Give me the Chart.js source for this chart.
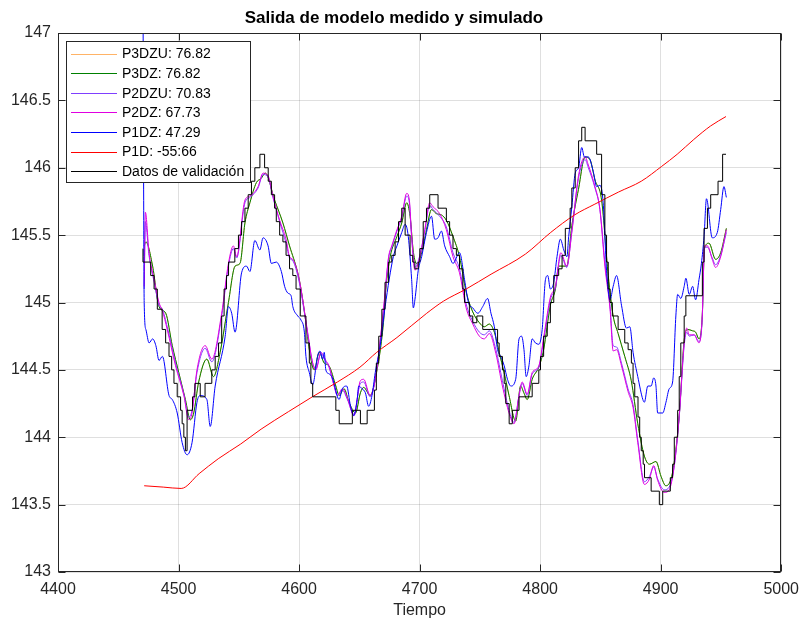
<!DOCTYPE html>
<html>
<head>
<meta charset="utf-8">
<script src="https://cdn.jsdelivr.net/npm/chart.js@4.4.1/dist/chart.umd.min.js"></script>
<style>
  html, body { margin: 0; padding: 0; background: #ffffff; }
  #lienzo { display: block; }
</style>
</head>
<body>
<canvas id="lienzo" width="807" height="620"></canvas>
<script>
// Modelos comparados y su ajuste (%), tal como aparecen en la leyenda
const modelos = ['P3DZU', 'P3DZ', 'P2DZU', 'P2DZ', 'P1DZ', 'P1D'];
const ajustes = ['76.82', '76.82', '70.83', '67.73', '47.29', '-55:66'];

// Datos de validación (salida medida, cuantizada)
const tDatos = [4470.5,4476.9,4479.7,4482.4,4486.4,4489.3,4492.1,4494.3,4496.2,4498.9,
  4501.7,4503,4504.4,4505.7,4507.1,4511.6,4513.6,4518,4522,4527.6,
  4530.4,4533.2,4535.8,4537.8,4539.8,4541.5,4546.7,4549.7,4552.3,4555.1,
  4557.8,4560.5,4563.3,4567.5,4571.4,4574.4,4577,4579.7,4581.1,4583.9,
  4586.6,4589.2,4592.1,4594.8,4597.5,4601,4605.7,4608.5,4609.8,4611.3,
  4630.5,4633.3,4644.2,4650.9,4656.5,4662.5,4664.1,4666.1,4668.7,4671.3,
  4674.3,4676.9,4679.7,4682.5,4685.2,4688,4692.1,4694.3,4696.1,4698.9,
  4700.2,4703,4705.7,4708.4,4715.3,4722.2,4724.9,4727.7,4730.5,4733.1,
  4735.9,4737.3,4741.3,4744.1,4747.5,4752.4,4764.7,4766,4768.7,4770.2,
  4771.5,4774.3,4776.9,4782.5,4793.4,4798.9,4800.3,4802.9,4805.9,4808.5,
  4811.3,4815.4,4818.2,4820.9,4824.9,4826.3,4829.1,4831.9,4834.5,4837.3,
  4846.9,4851,4853.7,4855.1,4856.5,4858,4859.9,4864.7,4870.2,4873,
  4875.7,4877.1,4878.5,4881.2,4882.6,4883.9,4885.5,4886.6,4892.1,4898.9,
  4901.7,4908,4909.9,4911.3,4914.1,4915.4,4916.7,4919.5,4920.9,4934.6,
  4936,4938.8,4941.5,4947.6,4951.4,4954.2];
const yDatos = [145.4,145.3,145.2,145.1,144.95,144.8,144.7,144.6,144.5,144.4,
  144.3,144.2,144.1,144.0,143.9,144.2,144.3,144.4,144.3,144.4,
  144.5,144.6,144.7,144.9,145.1,145.2,145.3,145.4,145.5,145.6,
  145.7,145.8,145.9,146.0,146.1,146.0,145.9,145.8,145.7,145.6,
  145.5,145.45,145.35,145.25,145.2,145.1,144.9,144.7,144.55,144.4,
  144.3,144.2,144.1,144.2,144.1,144.2,144.35,144.55,144.75,144.95,
  145.15,145.3,145.35,145.45,145.6,145.7,145.5,145.35,145.3,145.25,
  145.3,145.4,145.6,145.7,145.8,145.7,145.6,145.5,145.4,145.35,
  145.25,145.1,145.0,144.9,144.85,144.9,144.8,144.7,144.6,144.5,
  144.4,144.25,144.1,144.2,144.3,144.4,144.5,144.6,144.75,144.85,
  145.0,145.2,145.25,145.35,145.55,145.7,145.85,146.0,146.2,146.3,
  146.2,146.1,145.8,145.5,145.3,145.1,145.0,144.9,144.8,144.7,
  144.65,144.55,144.4,144.3,144.15,144.0,143.9,143.8,143.7,143.6,
  143.5,143.6,143.7,143.8,144.0,144.2,144.45,144.7,144.9,145.05,
  145.3,145.55,145.7,145.8,145.9,146.1];

// Modelos de tercer orden (P3DZU y P3DZ)
const tP3 = [4471.5,4472.9,4478.5,4483.8,4489.4,4494.8,4500.2,4505.7,4509.8,4512.6,
  4516.7,4523.5,4529,4534.5,4541.4,4546.9,4551,4555.1,4559.2,4564.6,
  4568.5,4572,4579.7,4586.6,4592.1,4598.9,4601.6,4605.7,4608.5,4612.6,
  4616.7,4620.9,4624.8,4630.5,4633.2,4637.3,4641.4,4646.8,4650.9,4653.6,
  4659,4663.2,4670,4672,4675.6,4681.2,4685.2,4689.3,4692.1,4694.9,
  4697.5,4701.7,4705.7,4709.9,4713.8,4718.1,4722.2,4727.7,4733.1,4738.6,
  4744.1,4749.6,4753.7,4757.8,4762,4766,4770.1,4774.2,4779.7,4783.8,
  4786.5,4789.3,4793.4,4798.9,4802.9,4808.5,4812.7,4815.4,4822.1,4826.3,
  4831.8,4837.3,4841.4,4845.5,4851,4856.5,4860.6,4864.7,4870.2,4875.6,
  4881,4886.5,4890.7,4896.1,4900.3,4904.3,4909.9,4915.4,4919.5,4922.2,
  4926.4,4929,4931.8,4934.5,4936.3,4940.1,4945.6,4949.8,4954.5];
const yP3DZU = [145.42,145.45,145.27,144.97,144.92,144.68,144.48,144.28,144.13,144.18,
  144.41,144.58,144.45,144.63,145.0,145.27,145.29,145.59,145.74,145.89,
  145.92,145.96,145.76,145.59,145.42,145.22,145.1,144.85,144.65,144.5,
  144.63,144.55,144.53,144.38,144.31,144.36,144.26,144.18,144.33,144.37,
  144.31,144.43,144.85,145.1,145.34,145.49,145.59,145.74,145.64,145.37,
  145.29,145.37,145.54,145.69,145.66,145.65,145.61,145.49,145.34,145.08,
  144.93,144.85,144.82,144.84,144.78,144.63,144.48,144.31,144.12,144.38,
  144.33,144.28,144.43,144.52,144.65,144.98,145.1,145.27,145.27,145.57,
  145.84,146.08,146.06,145.91,145.76,145.2,144.9,144.77,144.6,144.42,
  144.1,143.86,143.8,143.82,143.71,143.64,143.74,144.16,144.72,144.8,
  144.79,144.78,144.73,144.9,145.4,145.44,145.32,145.37,145.55];
const yP3DZ = [145.42,145.45,145.27,144.97,144.92,144.68,144.48,144.28,144.13,144.18,
  144.41,144.58,144.45,144.63,145.0,145.27,145.29,145.59,145.74,145.89,
  145.92,145.96,145.76,145.59,145.42,145.22,145.1,144.85,144.65,144.5,
  144.63,144.55,144.53,144.38,144.31,144.36,144.26,144.18,144.33,144.37,
  144.31,144.43,144.85,145.1,145.34,145.49,145.59,145.74,145.64,145.37,
  145.29,145.37,145.54,145.69,145.66,145.65,145.61,145.49,145.34,145.08,
  144.93,144.85,144.82,144.84,144.78,144.63,144.48,144.31,144.12,144.38,
  144.33,144.28,144.43,144.52,144.65,144.98,145.1,145.27,145.27,145.57,
  145.84,146.08,146.06,145.91,145.76,145.2,144.9,144.77,144.6,144.42,
  144.1,143.86,143.8,143.82,143.71,143.64,143.74,144.16,144.72,144.8,
  144.79,144.78,144.73,144.9,145.4,145.44,145.32,145.37,145.55];

// Modelos de segundo orden (P2DZU y P2DZ)
const tP2 = [4471.5,4472.5,4475.5,4479.8,4483.8,4486.6,4490.6,4497.5,4504.4,4508.5,
  4511.2,4515.3,4522.1,4527.6,4535.8,4541.4,4545.5,4548.2,4555.1,4559.2,
  4566,4570.1,4574.3,4578.3,4583.9,4589.2,4592.1,4594.8,4598.9,4601.6,
  4607.1,4611.3,4614,4618.1,4622.2,4624.8,4629.1,4631.8,4635.9,4640.1,
  4645.5,4650.9,4653.6,4659,4663.2,4670,4674.3,4676.9,4681.2,4685.2,
  4689.3,4691.5,4693.4,4696.1,4700.2,4704.3,4708.4,4711.2,4716.6,4722.2,
  4727.7,4733.1,4738.6,4744.1,4749.6,4753.7,4757.8,4763.3,4768.7,4774.2,
  4778.3,4782.5,4785.1,4789.3,4793.4,4798.9,4802.9,4808.5,4812.7,4817.2,
  4822.1,4826.3,4831.8,4837.3,4840,4845.5,4849.6,4853.7,4858,4860.6,
  4863.4,4867.5,4872.9,4877.1,4881,4886.5,4890.7,4894.2,4897.5,4903,
  4907.1,4911.3,4915.4,4919.5,4921.6,4923.7,4927.8,4931.8,4934.5,4936.3,
  4938.8,4942.8,4945.6,4949.8,4954.5];
const yP2DZU = [145.1,145.6,145.35,145.15,144.98,144.95,144.82,144.55,144.32,144.15,
  144.2,144.48,144.66,144.56,144.9,145.27,145.4,145.33,145.74,145.78,
  145.85,145.95,145.93,145.78,145.6,145.44,145.33,145.31,145.2,145.08,
  144.77,144.55,144.51,144.62,144.56,144.52,144.38,144.31,144.35,144.28,
  144.17,144.4,144.41,144.3,144.43,144.93,145.33,145.41,145.53,145.63,
  145.79,145.74,145.48,145.26,145.35,145.53,145.72,145.69,145.64,145.56,
  145.37,145.25,144.99,144.86,144.78,144.76,144.79,144.65,144.42,144.2,
  144.11,144.31,144.4,144.31,144.47,144.52,144.72,145.02,145.11,145.35,
  145.26,145.53,145.92,146.06,146.0,145.85,145.69,145.3,144.97,144.68,
  144.67,144.55,144.36,144.24,143.98,143.67,143.71,143.78,143.69,143.61,
  143.63,143.79,144.15,144.68,144.78,144.75,144.76,144.71,144.88,145.4,
  145.41,145.33,145.28,145.35,145.52];
const yP2DZ = [145.12,145.67,145.37,145.17,145.0,144.94,144.8,144.53,144.31,144.13,
  144.18,144.5,144.68,144.58,144.92,145.29,145.42,145.34,145.76,145.79,
  145.86,145.96,145.94,145.79,145.61,145.47,145.34,145.32,145.22,145.1,
  144.78,144.55,144.5,144.63,144.57,144.53,144.38,144.31,144.36,144.29,
  144.16,144.42,144.43,144.31,144.43,144.95,145.34,145.42,145.54,145.64,
  145.81,145.76,145.49,145.24,145.34,145.54,145.74,145.71,145.66,145.54,
  145.34,145.22,144.96,144.84,144.75,144.73,144.77,144.62,144.38,144.18,
  144.1,144.31,144.41,144.32,144.48,144.53,144.74,145.04,145.12,145.37,
  145.27,145.52,145.94,146.08,146.02,145.86,145.69,145.27,144.95,144.64,
  144.65,144.53,144.34,144.22,143.96,143.65,143.69,143.79,143.68,143.59,
  143.61,143.79,144.16,144.7,144.81,144.76,144.76,144.7,144.9,145.42,
  145.42,145.32,145.26,145.34,145.54];

// Modelo P1DZ
const tP1DZ = [4470.6,4471.5,4472.9,4475.6,4478.5,4481.2,4483.8,4486.6,4492.1,4494.8,
  4498.9,4503,4507.1,4511.2,4515.3,4518,4523.5,4526.3,4530.4,4538.7,
  4541.4,4544.1,4546.9,4552.3,4556.4,4559.2,4563.3,4567.5,4570.1,4574.3,
  4577,4581.1,4585.3,4588,4590.7,4593.4,4594.8,4598.9,4601.6,4604.4,
  4605.7,4608.5,4611.3,4615.3,4617.3,4619.5,4620.9,4622.2,4625,4627.7,
  4633.2,4635.9,4639.5,4642.7,4645.5,4648.2,4649.5,4652.3,4655,4657.7,
  4660.5,4663.2,4667.3,4671.4,4678.2,4681.2,4685.2,4688,4690.6,4693.4,
  4694.8,4696.1,4698.9,4701.7,4705.7,4709.9,4712.5,4715.3,4718.1,4720.8,
  4724.9,4727.7,4733.1,4737.3,4740.5,4744.1,4748.3,4752.4,4756.4,4759.2,
  4762,4764.7,4767.3,4770.2,4772.9,4775.7,4779.7,4782.5,4784.6,4786.6,
  4788.4,4790.7,4793.4,4796.1,4798.9,4801.7,4804.4,4806.3,4808.5,4811.3,
  4814,4816.8,4819.6,4822.2,4823.7,4826.3,4829.1,4831.9,4834.5,4836.7,
  4840,4844.1,4846.9,4849.6,4852.3,4855.1,4858,4860.6,4863.4,4867.5,
  4871.6,4874.4,4877.1,4881,4885.2,4886.5,4889.3,4892.1,4894.2,4896.1,
  4897.5,4901.7,4904.4,4907.1,4909.9,4912.6,4914.1,4916.7,4919.5,4920.9,
  4923.7,4926.5,4929,4931.8,4933.8,4936,4938,4942.8,4947,4949.8,
  4952.5,4954.5];
const yP1DZ = [147.1,145.0,144.8,144.7,144.73,144.68,144.57,144.6,144.31,144.28,
  144.18,143.96,143.87,143.96,144.26,144.31,144.28,144.08,144.38,144.75,
  144.97,144.92,144.78,145.22,145.27,145.23,145.46,145.39,145.48,145.42,
  145.29,145.3,145.23,145.12,145.07,145.05,144.97,144.9,144.87,144.78,
  144.6,144.48,144.39,144.6,144.64,144.58,144.63,144.5,144.47,144.44,
  144.28,144.36,144.38,144.23,144.16,144.28,144.38,144.36,144.33,144.23,
  144.31,144.48,144.68,144.97,145.34,145.42,145.52,145.58,145.49,145.17,
  144.96,145.02,145.24,145.34,145.52,145.64,145.47,145.48,145.53,145.42,
  145.34,145.29,145.37,145.17,145.0,144.96,144.92,144.97,145.03,144.92,
  144.82,144.65,144.6,144.53,144.43,144.38,144.43,144.73,144.75,144.65,
  144.45,144.53,144.73,144.7,144.69,144.8,145.17,145.2,145.1,145.15,
  145.34,145.47,145.39,145.34,145.49,145.71,145.96,146.0,146.15,146.08,
  146.08,145.97,145.86,145.87,145.74,145.24,145.02,145.12,145.2,144.98,
  144.81,144.82,144.63,144.45,144.28,144.26,144.38,144.38,144.44,144.38,
  144.18,144.18,144.26,144.36,144.41,144.9,145.06,145.03,145.12,145.18,
  145.06,145.12,145.02,145.17,145.29,145.49,145.77,145.48,145.52,145.69,
  145.86,145.78];

// Modelo P1D
const tP1D = [4471.5,4487.3,4502.2,4517.1,4532.9,4551.6,4568.5,4591.2,4611,4631.8,
  4650.5,4664.4,4681.2,4705.9,4719.8,4738.6,4759.3,4787.9,4808.8,4828.6,
  4845.4,4865.1,4883.9,4900.8,4913.7,4927.5,4941.4,4954.2];
const yP1D = [143.64,143.63,143.62,143.73,143.84,143.95,144.06,144.19,144.3,144.41,
  144.52,144.63,144.74,144.92,145.01,145.1,145.21,145.36,145.52,145.65,
  145.73,145.82,145.9,146.01,146.1,146.21,146.31,146.38];

// Marcas de los ejes
const ticksTiempo = [4400, 4500, 4600, 4700, 4800, 4900, 5000];
const ticksSalida = [143, 143.5, 144, 144.5, 145, 145.5, 146, 146.5, 147];

const FUENTE = "'Liberation Sans', Arial, Helvetica, sans-serif";
const EJE = '#262626';

function serie(ts, ys) {
  return ts.map((t, i) => ({ x: t, y: ys[i] }));
}

const colores = ['#ffb366', '#008000', '#7f3fff', '#e000e0', '#0000ff', '#ff0000'];
const salidas = [[tP3, yP3DZU], [tP3, yP3DZ], [tP2, yP2DZU], [tP2, yP2DZ], [tP1DZ, yP1DZ], [tP1D, yP1D]];

const conjuntos = modelos.map((m, i) => ({
  label: m + ': ' + ajustes[i],
  data: serie(salidas[i][0], salidas[i][1]),
  borderColor: colores[i],
  backgroundColor: colores[i],
  borderWidth: 1,
  pointRadius: 0,
  fill: false,
  cubicInterpolationMode: 'monotone',
  order: modelos.length - i
}));
conjuntos.push({
  label: 'Datos de validación',
  data: serie(tDatos, yDatos),
  borderColor: '#000000',
  backgroundColor: '#000000',
  borderWidth: 1,
  pointRadius: 0,
  fill: false,
  stepped: 'after',
  order: 0
});

// Caja de los ejes con marcas interiores y leyenda enmarcada arriba a la izquierda
const cajaYLeyenda = {
  id: 'cajaYLeyenda',
  afterDraw(chart) {
    const { ctx, chartArea: a, scales: { x, y } } = chart;
    const L = Math.round(a.left) + 0.5, R = Math.round(a.right) - 0.5;
    const T = Math.round(a.top) + 0.5, B = Math.round(a.bottom) - 0.5;
    const largo = 7;
    ctx.save();
    ctx.strokeStyle = EJE;
    ctx.lineWidth = 1;
    ctx.beginPath();
    ticksTiempo.forEach(v => {
      const px = Math.round(x.getPixelForValue(v)) + 0.5;
      ctx.moveTo(px, B); ctx.lineTo(px, B - largo);
      ctx.moveTo(px, T); ctx.lineTo(px, T + largo);
    });
    ticksSalida.forEach(v => {
      const py = Math.round(y.getPixelForValue(v)) + 0.5;
      ctx.moveTo(L, py); ctx.lineTo(L + largo, py);
      ctx.moveTo(R, py); ctx.lineTo(R - largo, py);
    });
    ctx.stroke();
    ctx.strokeRect(L, T, R - L, B - T);

    // leyenda
    const lx = 66.5, ly = 41.5, lw = 184, lh = 141;
    ctx.fillStyle = '#ffffff';
    ctx.fillRect(lx, ly, lw, lh);
    ctx.strokeStyle = EJE;
    ctx.strokeRect(lx, ly, lw, lh);
    ctx.font = '14px ' + FUENTE;
    ctx.textBaseline = 'middle';
    ctx.textAlign = 'left';
    chart.data.datasets.forEach((ds, i) => {
      const fy = 53.5 + i * 19.6;
      ctx.strokeStyle = ds.borderColor;
      ctx.lineWidth = 1;
      ctx.beginPath();
      ctx.moveTo(71, Math.round(fy) + 0.5);
      ctx.lineTo(117, Math.round(fy) + 0.5);
      ctx.stroke();
      ctx.fillStyle = '#000000';
      ctx.fillText(ds.label, 122, fy + 1);
    });
    ctx.restore();
  }
};

new Chart(document.getElementById('lienzo'), {
  type: 'line',
  data: { datasets: conjuntos },
  options: {
    responsive: false,
    devicePixelRatio: 1,
    animation: false,
    events: [],
    layout: { padding: { left: 0, right: 19, top: 0, bottom: 0 } },
    plugins: {
      legend: { display: false },
      tooltip: { enabled: false },
      title: {
        display: true,
        text: 'Salida de modelo medido y simulado',
        color: '#000000',
        font: { family: FUENTE, size: 17, weight: 'bold', lineHeight: 1.2 },
        padding: { top: 8, bottom: 4.6 }
      }
    },
    scales: {
      x: {
        type: 'linear',
        min: 4400,
        max: 5000,
        afterBuildTicks: s => { s.ticks = ticksTiempo.map(v => ({ value: v })); },
        afterFit: s => { s.height = 48; },
        ticks: {
          color: EJE,
          font: { family: FUENTE, size: 16 },
          padding: 8,
          maxRotation: 0,
          autoSkip: false,
          callback: v => String(v)
        },
        grid: { color: 'rgba(38,38,38,0.15)', drawTicks: false },
        border: { display: false },
        title: {
          display: true,
          text: 'Tiempo',
          color: EJE,
          font: { family: FUENTE, size: 16, lineHeight: 1.2 },
          padding: { top: 0, bottom: 0 }
        }
      },
      y: {
        type: 'linear',
        min: 143,
        max: 147,
        afterBuildTicks: s => { s.ticks = ticksSalida.map(v => ({ value: v })); },
        afterFit: s => { s.width = 58; },
        ticks: {
          color: EJE,
          font: { family: FUENTE, size: 16 },
          padding: 7,
          autoSkip: false,
          callback: v => String(v)
        },
        grid: { color: 'rgba(38,38,38,0.15)', drawTicks: false },
        border: { display: false }
      }
    }
  },
  plugins: [cajaYLeyenda]
});
</script>
</body>
</html>
